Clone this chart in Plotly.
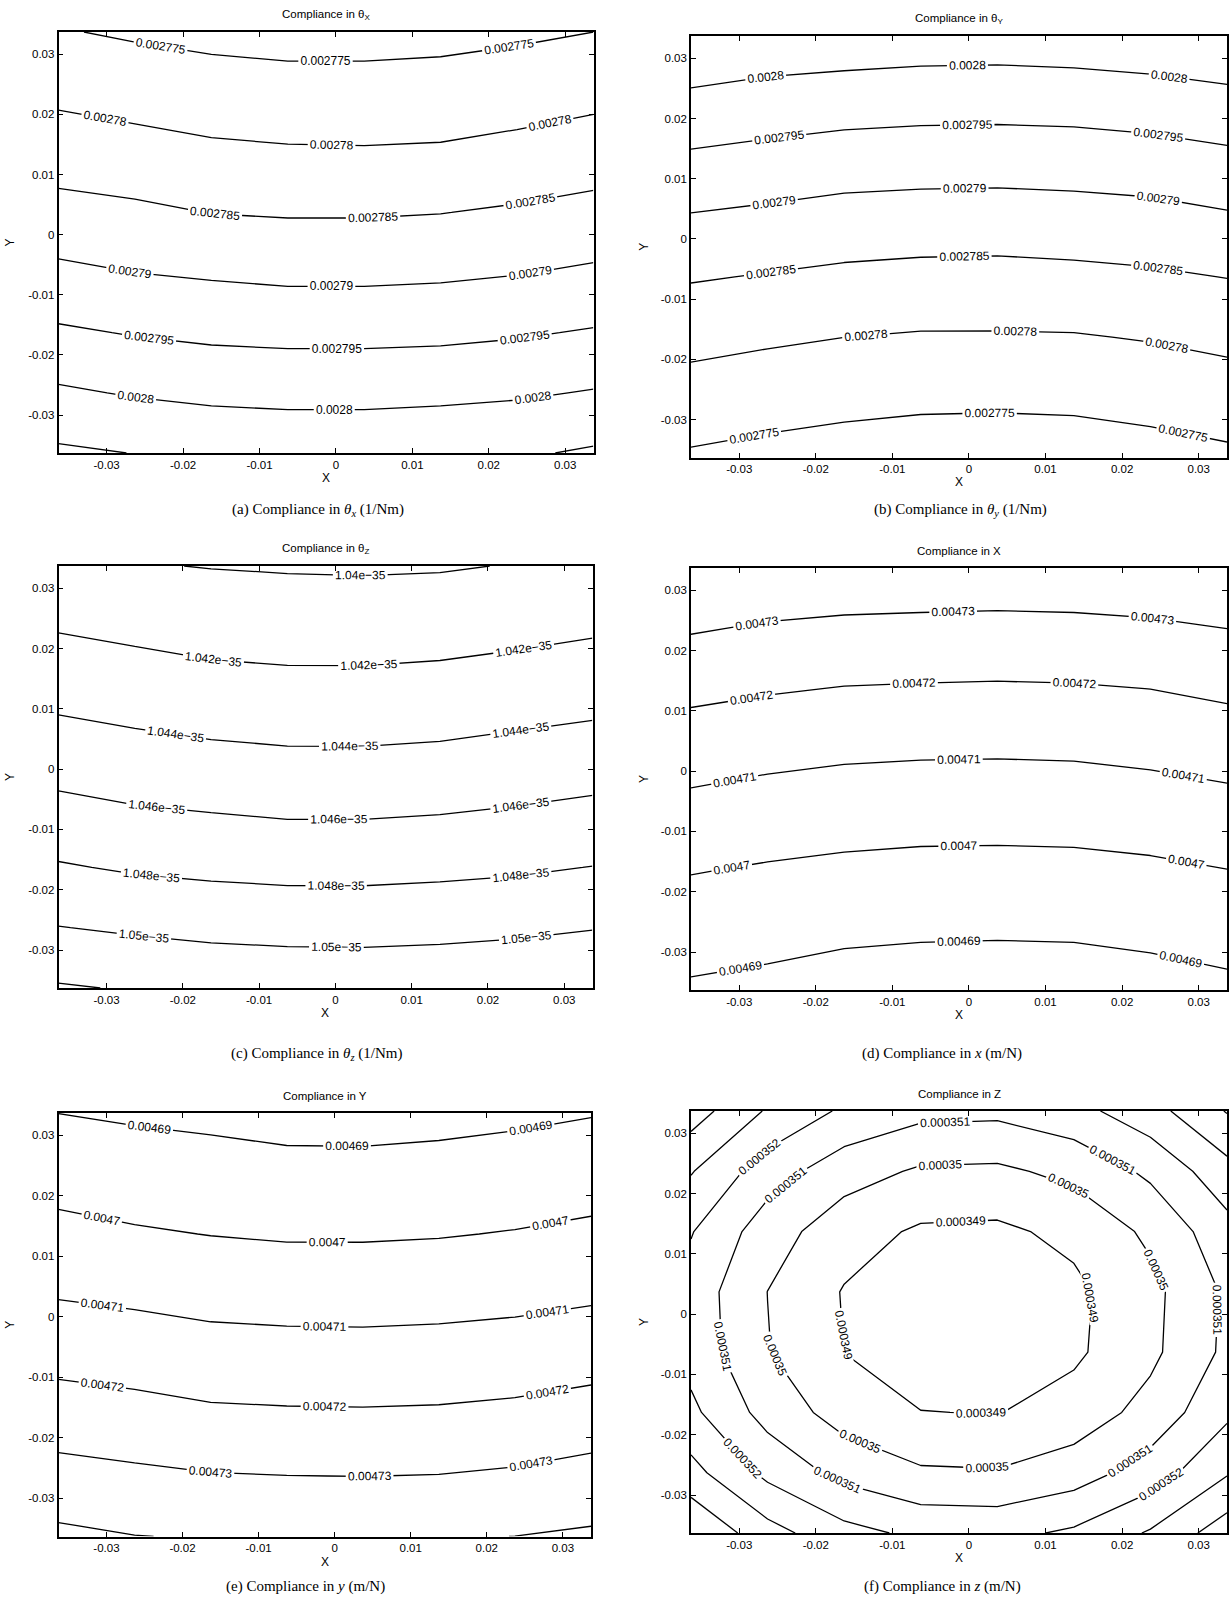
import plotly.graph_objects as go

W, H = 1229, 1598

# ---------------- data ----------------
GRID_X = [-0.0363, -0.0263, -0.0163, -0.0063, 0.0037, 0.0137, 0.0237, 0.0337]
GRID_Y = [-0.0363, -0.0263, -0.0163, -0.0063, 0.0037, 0.0137, 0.0237, 0.0337]
AXIS_RANGE = [-0.0363, 0.0337]
TICK_VALUES = [-0.03, -0.02, -0.01, 0, 0.01, 0.02, 0.03]
TICK_LABELS = ["-0.03", "-0.02", "-0.01", "0", "0.01", "0.02", "0.03"]

# rows follow GRID_Y (bottom to top), columns follow GRID_X (left to right)
Z_THETA_X = [
    [0.0028058, 0.0028049, 0.0028040, 0.0028036, 0.0028036, 0.0028040, 0.0028044, 0.0028056],
    [0.0028007, 0.0027996, 0.0027989, 0.0027986, 0.0027986, 0.0027989, 0.0027994, 0.0028003],
    [0.0027957, 0.0027947, 0.0027940, 0.0027937, 0.0027937, 0.0027939, 0.0027945, 0.0027954],
    [0.0027910, 0.0027900, 0.0027894, 0.0027889, 0.0027889, 0.0027892, 0.0027898, 0.0027907],
    [0.0027866, 0.0027859, 0.0027849, 0.0027846, 0.0027846, 0.0027849, 0.0027856, 0.0027865],
    [0.0027826, 0.0027818, 0.0027809, 0.0027805, 0.0027804, 0.0027806, 0.0027814, 0.0027824],
    [0.0027789, 0.0027780, 0.0027772, 0.0027768, 0.0027768, 0.0027770, 0.0027777, 0.0027786],
    [0.0027753, 0.0027744, 0.0027737, 0.0027733, 0.0027733, 0.0027736, 0.0027742, 0.0027750],
]
Z_THETA_Y = [
    [0.0027744, 0.0027736, 0.0027730, 0.0027725, 0.0027724, 0.0027725, 0.0027732, 0.0027741],
    [0.0027779, 0.0027771, 0.0027764, 0.0027760, 0.0027759, 0.0027761, 0.0027767, 0.0027776],
    [0.0027815, 0.0027807, 0.00278002, 0.0027796, 0.0027796, 0.0027797, 0.0027803, 0.0027812],
    [0.0027854, 0.0027847, 0.0027840, 0.0027836, 0.0027835, 0.0027838, 0.0027843, 0.0027851],
    [0.0027897, 0.0027890, 0.0027882, 0.0027879, 0.0027878, 0.0027881, 0.0027885, 0.0027895],
    [0.0027944, 0.0027936, 0.0027928, 0.0027925, 0.0027924, 0.0027926, 0.0027931, 0.0027941],
    [0.0027993, 0.0027984, 0.0027978, 0.0027974, 0.0027973, 0.0027975, 0.0027981, 0.0027990],
    [0.0028044, 0.0028033, 0.0028030, 0.0028026, 0.0028025, 0.0028028, 0.0028033, 0.0028041],
]
Z_THETA_Z = [
    [1.05217e-35, 1.05186e-35, 1.05159e-35, 1.05142e-35, 1.05139e-35, 1.05150e-35, 1.05171e-35, 1.05198e-35],
    [1.05005e-35, 1.04973e-35, 1.04947e-35, 1.04935e-35, 1.04933e-35, 1.04943e-35, 1.04961e-35, 1.04992e-35],
    [1.04817e-35, 1.04778e-35, 1.04757e-35, 1.04742e-35, 1.04742e-35, 1.04755e-35, 1.04773e-35, 1.04804e-35],
    [1.04644e-35, 1.04606e-35, 1.04584e-35, 1.04564e-35, 1.04564e-35, 1.04578e-35, 1.04603e-35, 1.04632e-35],
    [1.04481e-35, 1.04446e-35, 1.04419e-35, 1.04402e-35, 1.04401e-35, 1.04414e-35, 1.04441e-35, 1.04467e-35],
    [1.04328e-35, 1.04296e-35, 1.04262e-35, 1.04248e-35, 1.04248e-35, 1.04261e-35, 1.04287e-35, 1.04314e-35],
    [1.04184e-35, 1.04152e-35, 1.04123e-35, 1.04112e-35, 1.04110e-35, 1.04120e-35, 1.04143e-35, 1.04172e-35],
    [1.04051e-35, 1.04011e-35, 1.03994e-35, 1.03984e-35, 1.03979e-35, 1.03985e-35, 1.04008e-35, 1.04038e-35],
]
Z_X = [
    [0.00468872, 0.00468751, 0.00468598, 0.00468541, 0.00468521, 0.00468541, 0.00468639, 0.00468796],
    [0.00469456, 0.00469326, 0.00469185, 0.00469122, 0.00469102, 0.00469123, 0.00469226, 0.00469388],
    [0.00470055, 0.00469917, 0.00469809, 0.00469745, 0.00469731, 0.00469753, 0.00469842, 0.00469997],
    [0.00470743, 0.00470582, 0.00470475, 0.00470416, 0.00470404, 0.00470428, 0.00470527, 0.00470685],
    [0.00471470, 0.00471300, 0.00471183, 0.00471135, 0.00471119, 0.00471146, 0.00471252, 0.00471416],
    [0.00472243, 0.00472086, 0.00471966, 0.00471923, 0.00471898, 0.00471924, 0.00472006, 0.00472194],
    [0.00473083, 0.00472901, 0.00472800, 0.00472762, 0.00472735, 0.00472762, 0.00472843, 0.00473004],
    [0.00473980, 0.00473799, 0.00473706, 0.00473672, 0.00473641, 0.00473672, 0.00473752, 0.00473915],
]
Z_Y = [
    [0.00474200, 0.00474020, 0.00473940, 0.00473926, 0.00473910, 0.00473940, 0.00474005, 0.00474131],
    [0.00473332, 0.00473183, 0.00473053, 0.00473008, 0.00472993, 0.00473023, 0.00473138, 0.00473360],
    [0.00472474, 0.00472336, 0.00472166, 0.00472121, 0.00472106, 0.00472136, 0.00472229, 0.00472411],
    [0.00471681, 0.00471556, 0.00471396, 0.00471352, 0.00471338, 0.00471372, 0.00471450, 0.00471596],
    [0.00470937, 0.00470816, 0.00470675, 0.00470614, 0.00470607, 0.00470648, 0.00470733, 0.00470866],
    [0.00470261, 0.00470096, 0.00469980, 0.00469905, 0.00469904, 0.00469949, 0.00470045, 0.00470184],
    [0.00469618, 0.00469475, 0.00469380, 0.00469280, 0.00469273, 0.00469330, 0.00469428, 0.00469558],
    [0.00468994, 0.00468874, 0.00468784, 0.00468675, 0.00468666, 0.00468725, 0.00468822, 0.00468954],
]
Z_Z = [
    [3.54970e-4, 3.53380e-4, 3.52327e-4, 3.51773e-4, 3.51718e-4, 3.52162e-4, 3.53106e-4, 3.54550e-4],
    [3.53330e-4, 3.51740e-4, 3.50687e-4, 3.50133e-4, 3.50078e-4, 3.50522e-4, 3.51466e-4, 3.52910e-4],
    [3.52218e-4, 3.50628e-4, 3.49575e-4, 3.49021e-4, 3.48966e-4, 3.49410e-4, 3.50354e-4, 3.51798e-4],
    [3.51635e-4, 3.50045e-4, 3.48992e-4, 3.48438e-4, 3.48383e-4, 3.48827e-4, 3.49771e-4, 3.51215e-4],
    [3.51582e-4, 3.49992e-4, 3.48939e-4, 3.48385e-4, 3.48330e-4, 3.48774e-4, 3.49718e-4, 3.51162e-4],
    [3.52059e-4, 3.50469e-4, 3.49416e-4, 3.48862e-4, 3.48807e-4, 3.49251e-4, 3.50195e-4, 3.51639e-4],
    [3.53066e-4, 3.51476e-4, 3.50423e-4, 3.49869e-4, 3.49814e-4, 3.50258e-4, 3.51202e-4, 3.52646e-4],
    [3.54480e-4, 3.52890e-4, 3.51837e-4, 3.51283e-4, 3.51228e-4, 3.51672e-4, 3.52616e-4, 3.54060e-4],
]

# contour levels: (first level, level step)
LEVELS_THETA_X = (0.002775, 0.000005)
LEVELS_THETA_Y = (0.002775, 0.000005)
LEVELS_THETA_Z = (1.04e-35, 2e-38)
LEVELS_X = (0.00469, 0.00001)
LEVELS_Y = (0.00469, 0.00001)
LEVELS_Z = (0.000349, 0.000001)

TITLES = ["Compliance in θ<sub>X</sub>", "Compliance in θ<sub>Y</sub>", "Compliance in θ<sub>Z</sub>",
          "Compliance in X", "Compliance in Y", "Compliance in Z"]
CAPTIONS = ["(a) Compliance in <i>θ<sub>x</sub></i> (1/Nm)",
            "(b) Compliance in <i>θ<sub>y</sub></i> (1/Nm)",
            "(c) Compliance in <i>θ<sub>z</sub></i> (1/Nm)",
            "(d) Compliance in <i>x</i> (m/N)",
            "(e) Compliance in <i>y</i> (m/N)",
            "(f) Compliance in <i>z</i> (m/N)"]

# ---------------- layout / style ----------------
SANS = "Liberation Sans, Arial, Helvetica, sans-serif"
SERIF = "Liberation Serif, Times New Roman, serif"

# number of level slots handed to plotly (levels beyond the data simply draw nothing);
# a larger count makes plotly place several labels along each long contour line
LEVEL_SLOTS = 62

# panel boxes in pixels: left, right, top, bottom
BOXES = [(58.5, 593.5, 32, 453), (691, 1227, 36, 457.5),
         (58.5, 592.5, 566, 988), (691, 1227, 568, 990),
         (58.5, 591, 1113, 1536.5), (691, 1227, 1111, 1533)]
CAPTION_X = [318, 960, 316, 942, 305, 942]
CAPTION_Y = [510.5, 510.5, 1053.6, 1053.6, 1586.7, 1586.7]

PANELS = [(Z_THETA_X, LEVELS_THETA_X), (Z_THETA_Y, LEVELS_THETA_Y), (Z_THETA_Z, LEVELS_THETA_Z),
          (Z_X, LEVELS_X), (Z_Y, LEVELS_Y), (Z_Z, LEVELS_Z)]

axis_style = dict(range=AXIS_RANGE, tickmode="array", tickvals=TICK_VALUES, ticktext=TICK_LABELS,
                  ticks="inside", ticklen=5, tickwidth=1, tickcolor="black",
                  showline=True, linecolor="black", linewidth=1.6, mirror="ticks",
                  showgrid=False, zeroline=False,
                  tickfont=dict(family=SANS, size=11.5, color="black"))

fig = go.Figure()
annotations = []


def px_x(v):
    return v / W


def px_y(v):
    return 1 - v / H


for i, ((z, (start, size)), box) in enumerate(zip(PANELS, BOXES)):
    sfx = "" if i == 0 else str(i + 1)
    fig.add_trace(go.Contour(
        x=GRID_X, y=GRID_Y, z=z, xaxis="x" + sfx, yaxis="y" + sfx,
        autocontour=False,
        contours=dict(start=start, end=start + (LEVEL_SLOTS - 1) * size, size=size,
                      coloring="lines", showlabels=True,
                      labelfont=dict(family=SANS, size=12, color="black"), labelformat=".4~g"),
        line=dict(width=1.3, smoothing=0),
        colorscale=[[0, "black"], [1, "black"]], showscale=False, hoverinfo="skip"))
    l, r, t, b = box
    fig.layout["xaxis" + sfx] = dict(domain=[px_x(l), px_x(r)], anchor="y" + sfx, **axis_style)
    fig.layout["yaxis" + sfx] = dict(domain=[px_y(b), px_y(t)], anchor="x" + sfx, **axis_style)
    cx = (l + r) / 2
    annotations.append(dict(x=px_x(cx), y=px_y(t - 17), xref="paper", yref="paper", text=TITLES[i],
                            showarrow=False, xanchor="center", yanchor="middle",
                            font=dict(family=SANS, size=11.5, color="black")))
    annotations.append(dict(x=px_x(cx), y=px_y(b + 25), xref="paper", yref="paper", text="X",
                            showarrow=False, xanchor="center", yanchor="middle",
                            font=dict(family=SANS, size=12, color="black")))
    annotations.append(dict(x=px_x(10 if i % 2 == 0 else 644), y=px_y((t + b) / 2), xref="paper",
                            yref="paper", text="Y", textangle=-90, showarrow=False,
                            xanchor="center", yanchor="middle",
                            font=dict(family=SANS, size=12, color="black")))
    annotations.append(dict(x=px_x(CAPTION_X[i]), y=px_y(CAPTION_Y[i]), xref="paper", yref="paper",
                            text=CAPTIONS[i], showarrow=False, xanchor="center", yanchor="middle",
                            font=dict(family=SERIF, size=15, color="black")))

fig.update_layout(width=W, height=H, margin=dict(l=0, r=0, t=0, b=0),
                  paper_bgcolor="white", plot_bgcolor="white", showlegend=False,
                  annotations=annotations)

fig.write_html("out.html")
